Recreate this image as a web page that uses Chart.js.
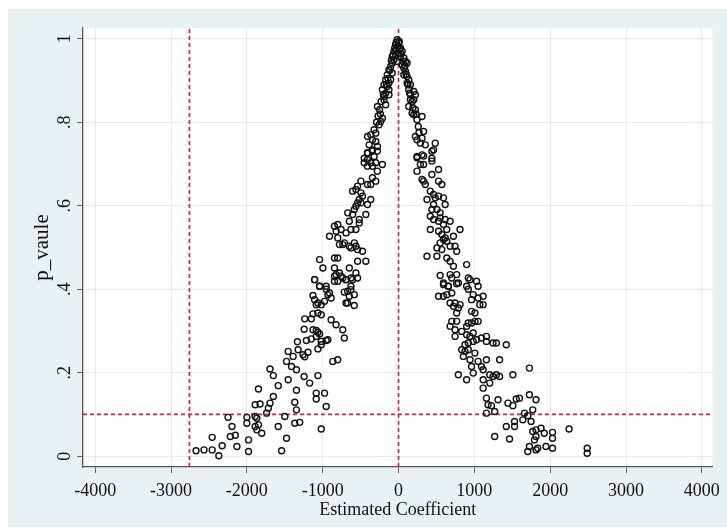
<!DOCTYPE html>
<html>
<head>
<meta charset="utf-8">
<script src="https://cdn.jsdelivr.net/npm/chart.js@4.4.1/dist/chart.umd.min.js"></script>
<style>
  html, body { margin: 0; padding: 0; background: #fff; }
  #wrap { position: relative; width: 727px; height: 532px; }
</style>
</head>
<body>
<div id="wrap"><canvas id="scatter" width="727" height="532"></canvas></div>
<script>
// [estimated coefficient, p value] pairs, read off the picture region by region
const peakPts = [
  [-17,.998],[4,.99],[-39,.986],[-8,.982],[26,.978],[-26,.974],[-61,.97],[4,.966],[48,.97],[-39,.962],
  [-83,.958],[26,.958],[70,.954],[-61,.95],[-17,.946],[92,.946],[-83,.942],[48,.938],[113,.942],[-104,.934],
  [70,.93],[-126,.926],[92,.922],[-83,.918],[-148,.914],[70,.914],[113,.91],[-170,.902],[-104,.902],[-126,.894],
  [135,.902],[-191,.89],[-148,.886],[113,.894],[157,.89],[-213,.878],[-126,.878],[-170,.87],[135,.878],[201,.874],
  [-191,.862],[-126,.866],[157,.866],[222,.866],[-278,.838],[-170,.842],[-191,.854],[157,.854],[201,.854],[135,.838],
  [222,.83],[179,.822],[-213,.81],[-235,.802],[-257,.794],[201,.818],[310,.814],[244,.806],[-322,.782],[-366,.77],
  [-300,.774],[-409,.766],[-344,.758],[-300,.754],[-278,.742],[-387,.746],[-344,.734],[-409,.726],[-453,.714],[-322,.718],
  [222,.766],[244,.758],[310,.762],[331,.778],[288,.75],[353,.746],[484,.75],[462,.734],[244,.718],[310,.722],
  [440,.714],[-30,.992],[10,.994],[-50,.978],[15,.975],[-70,.962],[35,.964],[-95,.948],[60,.946],[-115,.925],
  [85,.935],[-140,.905],[100,.915],[-160,.89],[125,.89],[-200,.866],[145,.87],[-230,.85],[180,.85],[-250,.83],
  [190,.835],[-270,.815],[230,.82],[-290,.8],[260,.79],[-240,.82],[270,.775]
];

const leftMidPts = [
  [-409,.727],[-344,.731],[-279,.731],[-409,.711],[-453,.703],[-366,.703],[-300,.703],[-409,.695],[-344,.695],[-213,.699],
  [-279,.683],[-496,.659],[-409,.651],[-366,.651],[-300,.659],[-344,.667],[-540,.647],[-605,.635],[-562,.639],[-496,.631],
  [-475,.623],[-518,.615],[-540,.607],[-562,.599],[-496,.607],[-366,.615],[-409,.603],[-583,.591],[-670,.583],[-605,.579],
  [-431,.579],[-518,.567],[-518,.559],[-649,.563],[-801,.555],[-845,.551],[-823,.539],[-758,.543],[-692,.535],[-627,.543],
  [-562,.543],[-910,.527],[-801,.523],[-736,.507],[-779,.507],[-714,.511],[-649,.503],[-583,.511],[-562,.503],[-540,.495],
  [-475,.491],[-627,.499],[-1041,.471],[-845,.475],[-801,.475],[-997,.451],[-845,.451],[-779,.439],[-649,.451],[-540,.467],
  [-431,.467],[-1106,.423],[-1041,.407],[-954,.407],[-845,.431],[-801,.419],[-736,.427],[-692,.423],[-627,.427],[-562,.439],
  [-540,.427],[-627,.407]
];

const leftLowPts = [
  [-2670,.013],[-2565,.015],[-2457,.015],[-2370,.001],[-2326,.025],[-2457,.045],[-2248,.093],[-2196,.071],[-2218,.047],[-2152,.05],
  [-2131,.023],[-2000,.093],[-2000,.079],[-1978,.039],[-1978,.011],[-1891,.095],[-1869,.091],[-1891,.071],[-1847,.075],[-1869,.063],
  [-1804,.055],[-1739,.103],[-1717,.115],[-1695,.127],[-1651,.143],[-1586,.071],[-1542,.013],[-1477,.043],[-1499,.095],[-1891,.123],
  [-1826,.125],[-1847,.161],[-1695,.209],[-1651,.193],[-1586,.169],[-1455,.183],[-1346,.158],[-1368,.129],[-1346,.111],[-1368,.079],
  [-1303,.081],[-1019,.065],[-954,.119],[-1085,.151],[-976,.151],[-1085,.137],[-1172,.175],[-1063,.193],[-1245,.191],[-1346,.207],
  [-1411,.215],[-1477,.227],[-1455,.251],[-1390,.239],[-1324,.255],[-1237,.238],[-1259,.243],[-1194,.249],[-1333,.274],[-1215,.277],
  [-1150,.281],[-1085,.287],[-1019,.275],[-954,.277],[-1063,.257],[-1019,.267],[-1245,.304],[-1128,.303],[-1085,.301],[-1063,.297],
  [-1041,.293],[-715,.283],[-736,.303],[-824,.315],[-889,.327],[-867,.227],[-802,.231],[-1237,.329],[-1150,.329],[-1063,.343],
  [-1019,.339],[-1128,.341],[-1085,.363],[-1063,.367],[-1019,.363],[-1128,.385],[-1107,.375],[-976,.371],[-932,.387],[-889,.379],
  [-693,.367],[-1041,.407],[-954,.400],[-1107,.423],[-845,.419],[-715,.393],[-824,.435],[-758,.431],[-693,.423],[-606,.423],
  [-910,.391],[-671,.395],[-627,.399],[-584,.387],[-649,.383],[-671,.367],[-584,.361],[-932,.279]
];

const rightMidPts = [
  [244,.715],[331,.719],[440,.731],[440,.707],[288,.699],[331,.699],[244,.683],[310,.663],[331,.659],[353,.651],
  [440,.675],[528,.687],[528,.659],[571,.651],[419,.635],[462,.627],[375,.615],[484,.619],[528,.623],[593,.619],
  [615,.603],[462,.603],[440,.591],[506,.591],[549,.583],[419,.575],[462,.567],[419,.543],[528,.563],[549,.571],
  [615,.567],[680,.563],[593,.555],[528,.539],[636,.543],[571,.531],[615,.523],[593,.519],[549,.511],[636,.515],
  [506,.499],[571,.495],[724,.527],[680,.503],[745,.503],[767,.491],[811,.543],[375,.479],[506,.479],[636,.475],
  [680,.467],[724,.455],[898,.459],[549,.433],[680,.435],[767,.435],[702,.427],[920,.427],[593,.415],[658,.407],
  [789,.415],[898,.407],[1050,.407]
];

const rightLowPts = [
  [593,.411],[658,.407],[767,.413],[942,.423],[1029,.419],[920,.400],[528,.383],[593,.383],[637,.387],[702,.391],
  [680,.367],[746,.367],[811,.363],[724,.359],[789,.355],[767,.343],[985,.387],[963,.375],[1050,.379],[1116,.383],
  [1072,.363],[1116,.363],[963,.347],[1007,.343],[702,.323],[767,.323],[680,.311],[746,.303],[833,.299],[898,.311],
  [920,.319],[963,.319],[1007,.323],[1050,.323],[746,.287],[898,.291],[942,.287],[985,.295],[985,.275],[920,.271],
  [876,.267],[1029,.279],[1094,.283],[1159,.287],[1159,.275],[1246,.271],[1290,.271],[1421,.267],[833,.255],[876,.251],
  [920,.255],[1007,.247],[855,.239],[942,.231],[1050,.227],[1159,.231],[1333,.231],[1094,.215],[963,.215],[985,.199],
  [789,.195],[898,.183],[1116,.207],[1203,.195],[1246,.191],[1290,.195],[1333,.191],[1508,.195],[1726,.211],[1116,.183],
  [1203,.175],[1116,.163],[1159,.139],[1181,.123],[1225,.121],[1312,.135],[1159,.103],[1268,.107],[1443,.127],[1508,.121],
  [1552,.137],[1595,.139],[1726,.147],[1813,.135],[1770,.111],[1661,.103],[1704,.097],[1639,.087],[1530,.083],[1530,.071],
  [1421,.071],[1268,.047],[1464,.041],[1748,.083],[1770,.059],[1813,.063],[1879,.067],[1922,.055],[2031,.057],[2031,.043],
  [1813,.047],[1792,.039],[1726,.023],[1704,.011],[1813,.015],[1835,.019],[1944,.023],[2031,.019],[2249,.065],[2488,.019],
  [2488,.007]
];

const xTicks = [-4000, -3000, -2000, -1000, 0, 1000, 2000, 3000, 4000];
const yTicks = [0, 0.2, 0.4, 0.6, 0.8, 1];
const yTickLabels = ['0', '.2', '.4', '.6', '.8', '1'];
const xRefLines = [-2758, 0];
const yRefLines = [0.1];
const xTitle = 'Estimated Coefficient';
const yTitle = 'p_vaule';

const X_MIN = -4161, X_MAX = 4140;
const Y_MIN = -0.026, Y_MAX = 1.026;
const SERIF = '"Liberation Serif", "Times New Roman", serif';
const RED = '#c8264e';

const allPts = [].concat(peakPts, leftMidPts, leftLowPts, rightMidPts, rightLowPts);

const refLineStyle = {
    type: 'line',
    showLine: true,
    borderColor: RED,
    borderWidth: 1.7,
    borderDash: [4, 3],
    pointRadius: 0,
    fill: false,
    order: 2
};

const datasets = [{
    label: 'p',
    data: allPts.map(p => ({ x: p[0], y: p[1] })),
    pointStyle: 'circle',
    pointRadius: 3,
    borderWidth: 1.4,
    borderColor: '#111',
    backgroundColor: 'rgba(0,0,0,0)',
    order: 1
}];
xRefLines.forEach(v => datasets.push(Object.assign({}, refLineStyle, {
    data: [{ x: v, y: Y_MIN }, { x: v, y: Y_MAX }]
})));
yRefLines.forEach(v => datasets.push(Object.assign({}, refLineStyle, {
    data: [{ x: X_MIN, y: v }, { x: X_MAX, y: v }]
})));

// stata-like frame: bluish outer panel, white plot region, rotated y labels
const stataFrame = {
    id: 'stataFrame',
    beforeDraw(chart) {
        const { ctx, chartArea: a } = chart;
        ctx.save();
        ctx.fillStyle = '#e9f1f3';
        ctx.fillRect(8, 9, 719, 518);
        ctx.fillStyle = '#fff';
        ctx.fillRect(a.left, a.top, a.right - a.left, a.bottom - a.top);
        ctx.restore();
    },
    afterDraw(chart) {
        const { ctx, chartArea: a } = chart;
        const ys = chart.scales.y;
        ctx.save();
        ctx.fillStyle = '#111';
        ctx.font = '18px ' + SERIF;
        ctx.textAlign = 'center';
        ctx.textBaseline = 'alphabetic';
        yTicks.forEach((v, i) => {
            ctx.save();
            ctx.translate(70, ys.getPixelForValue(v));
            ctx.rotate(-Math.PI / 2);
            ctx.fillText(yTickLabels[i], 0, 0);
            ctx.restore();
        });
        ctx.save();
        ctx.font = '21px ' + SERIF;
        ctx.translate(48, (a.top + a.bottom) / 2);
        ctx.rotate(-Math.PI / 2);
        ctx.fillText(yTitle, 0, 0);
        ctx.restore();
        ctx.font = '18px ' + SERIF;
        ctx.fillText(xTitle, (a.left + a.right) / 2, 515);
        ctx.restore();
    }
};

new Chart(document.getElementById('scatter').getContext('2d'), {
    type: 'scatter',
    data: { datasets: datasets },
    plugins: [stataFrame],
    options: {
        responsive: false,
        devicePixelRatio: 1,
        animation: false,
        layout: { padding: { left: 8, top: 28, right: 9, bottom: 0 } },
        plugins: { legend: { display: false }, tooltip: { enabled: false } },
        scales: {
            x: {
                type: 'linear',
                position: 'bottom',
                min: X_MIN,
                max: X_MAX,
                afterBuildTicks: s => { s.ticks = xTicks.map(v => ({ value: v })); },
                afterFit: s => { s.height = 65; },
                grid: { color: '#e2ebee', lineWidth: 1, tickColor: '#666', tickLength: 6, drawTicks: true },
                border: { color: '#555', width: 1.3 },
                ticks: {
                    color: '#111',
                    font: { family: SERIF, size: 18 },
                    padding: 7,
                    autoSkip: false,
                    maxRotation: 0,
                    callback: v => String(v)
                }
            },
            y: {
                type: 'linear',
                min: Y_MIN,
                max: Y_MAX,
                afterBuildTicks: s => { s.ticks = yTicks.map(v => ({ value: v })); },
                afterFit: s => { s.width = 75; },
                grid: { color: '#e2ebee', lineWidth: 1, tickColor: '#666', tickLength: 6, drawTicks: true },
                border: { color: '#555', width: 1.3 },
                ticks: { display: false }
            }
        }
    }
});
</script>
</body>
</html>
